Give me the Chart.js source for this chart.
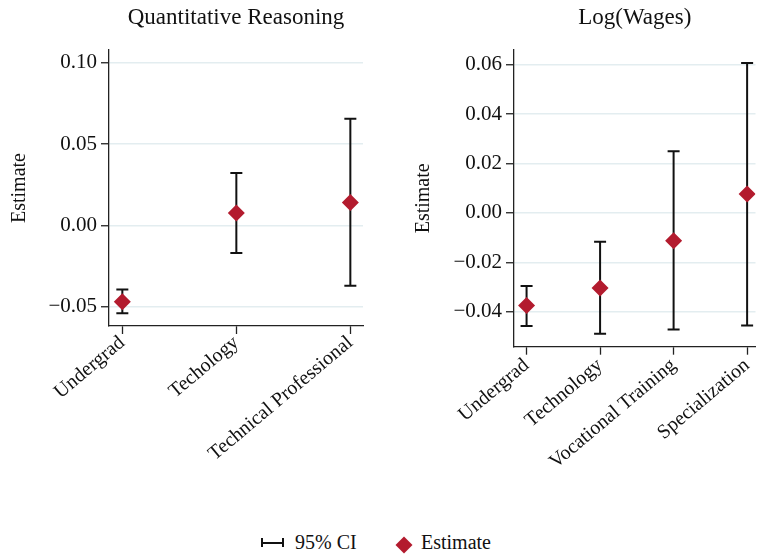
<!DOCTYPE html>
<html>
<head>
<meta charset="utf-8">
<script src="https://cdn.jsdelivr.net/npm/chart.js@4/dist/chart.umd.min.js"></script>
<style>
  html, body { margin: 0; padding: 0; background: #fff; }
  #wrap { position: relative; width: 764px; height: 555px; overflow: hidden; background: #fff; font-family: 'Liberation Serif', 'Times New Roman', serif; }
  canvas { position: absolute; top: 0; }
  .lg { position: absolute; font-size: 20px; line-height: 20px; color: #111; white-space: nowrap; }
  #ciIcon { position: absolute; left: 261px; top: 538px; width: 19px; height: 9px; border-left: 2px solid #111; border-right: 2px solid #111; }
  #ciIcon::after { content: ''; position: absolute; left: 0; right: 0; top: 4px; height: 2px; background: #111; }
  #diamond { position: absolute; left: 397.5px; top: 539px; width: 12px; height: 12px; background: #b31b2e; transform: rotate(45deg); }
</style>
</head>
<body>
<div id="wrap">
  <canvas id="c1" width="385" height="480" style="left:0px"></canvas>
  <canvas id="c2" width="379" height="480" style="left:385px"></canvas>
  <div id="ciIcon"></div>
  <div class="lg" style="left:295px; top:532px;">95% CI</div>
  <div id="diamond"></div>
  <div class="lg" style="left:421px; top:532px;">Estimate</div>
</div>
<script>
// ---- Data: Quantitative Reasoning panel ----
const qrTitle = 'Quantitative Reasoning';
const qrCategories = ['Undergrad', 'Techology', 'Technical Professional'];
const qrEstimate = [-0.0470, 0.0076, 0.0141];
const qrLower = [-0.0541, -0.0170, -0.0371];
const qrUpper = [-0.0394, 0.0322, 0.0656];
const qrTicks = [-0.05, 0.00, 0.05, 0.10];

// ---- Data: Log(Wages) panel ----
const wgTitle = 'Log(Wages)';
const wgCategories = ['Undergrad', 'Technology', 'Vocational Training', 'Specialization'];
const wgEstimate = [-0.0374, -0.0304, -0.0112, 0.0077];
const wgLower = [-0.0457, -0.0489, -0.0471, -0.0455];
const wgUpper = [-0.0296, -0.0117, 0.0249, 0.0606];
const wgTicks = [-0.04, -0.02, 0.00, 0.02, 0.04, 0.06];

const yTitle = 'Estimate';
const FONT = "'Liberation Serif', 'Times New Roman', serif";
const RED = '#b31b2e';

const errorBars = {
  id: 'errorBars',
  beforeDatasetsDraw(chart, args, opts) {
    const ctx = chart.ctx;
    const xs = chart.scales.x, ys = chart.scales.y;
    ctx.save();
    ctx.strokeStyle = '#111';
    ctx.lineWidth = 2;
    opts.lower.forEach((lo, i) => {
      const hi = opts.upper[i];
      const px = xs.getPixelForValue(i + 1);
      const pLo = ys.getPixelForValue(lo);
      const pHi = ys.getPixelForValue(hi);
      ctx.beginPath();
      ctx.moveTo(px, pLo); ctx.lineTo(px, pHi);
      ctx.moveTo(px - 6, pLo); ctx.lineTo(px + 6, pLo);
      ctx.moveTo(px - 6, pHi); ctx.lineTo(px + 6, pHi);
      ctx.stroke();
    });
    ctx.restore();
  }
};

function fmt(v) {
  const s = Math.abs(v).toFixed(2);
  return (v < -1e-9 ? '\u2212' : '') + s;
}

function makeChart(id, cfg) {
  return new Chart(document.getElementById(id), {
    type: 'scatter',
    data: {
      datasets: [{
        data: cfg.est.map((v, i) => ({ x: i + 1, y: v })),
        pointStyle: 'rectRot',
        pointRadius: 8.5,
        pointHoverRadius: 8.5,
        backgroundColor: RED,
        borderWidth: 0
      }]
    },
    plugins: [errorBars],
    options: {
      responsive: false,
      animation: false,
      devicePixelRatio: 1,
      events: [],
      layout: { padding: { top: 0, left: 0, right: cfg.padRight, bottom: 0 } },
      plugins: {
        legend: { display: false },
        tooltip: { enabled: false },
        title: {
          display: true,
          fullSize: false,
          text: cfg.title,
          color: '#111',
          font: { family: FONT, size: 23, weight: 'normal' },
          padding: { top: 4, bottom: 18.4 }
        },
        errorBars: { lower: cfg.lo, upper: cfg.hi }
      },
      scales: {
        x: {
          type: 'linear',
          min: cfg.xMin, max: cfg.xMax,
          afterBuildTicks: (s) => { s.ticks = cfg.cats.map((c, i) => ({ value: i + 1 })); },
          afterFit: (s) => { s.height = cfg.xHeight; s.paddingLeft = 0; s.paddingRight = 0; },
          ticks: {
            callback: (v) => cfg.cats[Math.round(v) - 1],
            autoSkip: false,
            minRotation: 40, maxRotation: 40,
            padding: cfg.xPad,
            color: '#111',
            font: { family: FONT, size: 20 }
          },
          grid: { display: true, drawOnChartArea: false, drawTicks: true, tickLength: 8, tickColor: '#222', tickWidth: 1.3 },
          border: { display: true, color: '#222', width: 1.3 }
        },
        y: {
          type: 'linear',
          min: cfg.yMin, max: cfg.yMax,
          afterBuildTicks: (s) => { s.ticks = cfg.ticks.map(v => ({ value: v })); },
          afterFit: (s) => { s.width = cfg.yWidth; },
          ticks: {
            callback: (v) => fmt(v),
            padding: 4,
            color: '#111',
            font: { family: FONT, size: 21 }
          },
          grid: { display: true, color: '#e3edf0', lineWidth: 1.5, drawTicks: true, tickLength: 8, tickColor: '#222', tickWidth: 1.3 },
          border: { display: true, color: '#222', width: 1.3 },
          title: {
            display: true,
            text: yTitle,
            color: '#111',
            font: { family: FONT, size: 20 },
            padding: { top: cfg.yTitlePad, bottom: 0 }
          }
        }
      }
    }
  });
}

makeChart('c1', {
  title: qrTitle, cats: qrCategories, est: qrEstimate, lo: qrLower, hi: qrUpper, ticks: qrTicks,
  xMin: 0.883, xMax: 3.111, yMin: -0.0619, yMax: 0.1078,
  padRight: 22, yWidth: 109, xHeight: 154, yTitlePad: 8, xPad: -3
});

makeChart('c2', {
  title: wgTitle, cats: wgCategories, est: wgEstimate, lo: wgLower, hi: wgUpper, ticks: wgTicks,
  xMin: 0.829, xMax: 4.114, yMin: -0.0541, yMax: 0.0659,
  padRight: 0, yWidth: 129, xHeight: 133.3, yTitlePad: 27, xPad: -1
});
</script>
</body>
</html>
